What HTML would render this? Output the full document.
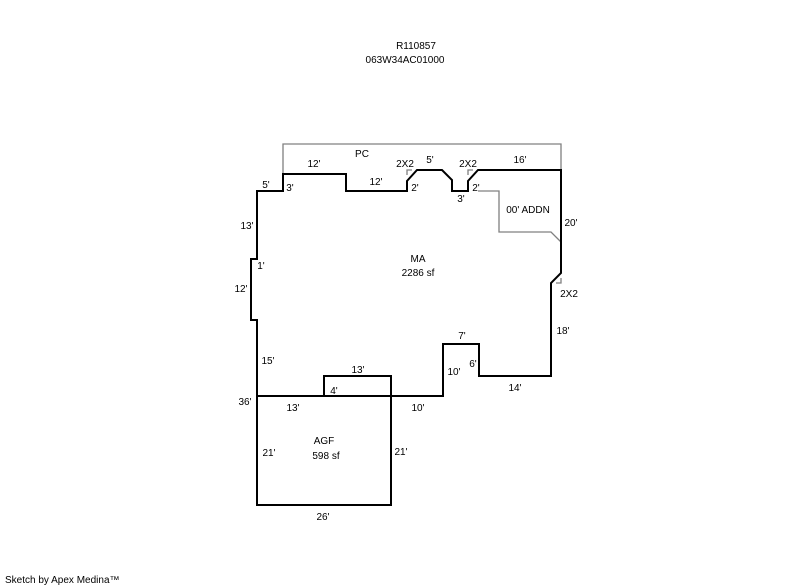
<!DOCTYPE html>
<html><head><meta charset="utf-8"><style>
html,body{margin:0;padding:0;background:#fff;}
svg{display:block;}
text{font-family:"Liberation Sans",Arial,sans-serif;font-size:10px;fill:#000;}
</style></head><body>
<svg width="800" height="587" viewBox="0 0 800 587" xmlns="http://www.w3.org/2000/svg">
<text x="416" y="49" text-anchor="middle">R110857</text>
<text x="405" y="63" text-anchor="middle">063W34AC01000</text>
<!-- PC gray -->
<polyline points="283,174 283,144 561,144 561,170" fill="none" stroke="#808080" stroke-width="1.3"/>
<!-- ADDN gray -->
<polyline points="478,191 499,191 499,232 551,232 561,242" fill="none" stroke="#808080" stroke-width="1.3"/>
<!-- small brackets -->
<polyline points="407,175 407,170 412,170" fill="none" stroke="#808080" stroke-width="1.3"/>
<polyline points="468,175 468,170 473,170" fill="none" stroke="#808080" stroke-width="1.3"/>
<polyline points="556,283 561,283 561,278" fill="none" stroke="#808080" stroke-width="1.3"/>
<!-- MA -->
<polygon points="257,191 283,191 283,174 346,174 346,191 407,191 407,181 417,170 442,170 452,180 452,191 468,191 468,181 478,170 561,170 561,273 551,283 551,376 479,376 479,344 443,344 443,396 391,396 391,376 324,376 324,396 257,396 257,320 251,320 251,259 257,259" fill="none" stroke="#000" stroke-width="2"/>
<!-- AGF -->
<rect x="257" y="396" width="134" height="109" fill="none" stroke="#000" stroke-width="2"/>
<text x="362" y="157" text-anchor="middle">PC</text>
<text x="314" y="167" text-anchor="middle">12'</text>
<text x="376" y="185" text-anchor="middle">12'</text>
<text x="405" y="167" text-anchor="middle">2X2</text>
<text x="430" y="163" text-anchor="middle">5'</text>
<text x="468" y="167" text-anchor="middle">2X2</text>
<text x="520" y="163" text-anchor="middle">16'</text>
<text x="266" y="188" text-anchor="middle">5'</text>
<text x="290" y="191" text-anchor="middle">3'</text>
<text x="415" y="191" text-anchor="middle">2'</text>
<text x="476" y="191" text-anchor="middle">2'</text>
<text x="461" y="202" text-anchor="middle">3'</text>
<text x="528" y="213" text-anchor="middle">00' ADDN</text>
<text x="571" y="226" text-anchor="middle">20'</text>
<text x="247" y="229" text-anchor="middle">13'</text>
<text x="418" y="262" text-anchor="middle">MA</text>
<text x="418" y="276" text-anchor="middle">2286 sf</text>
<text x="261" y="269" text-anchor="middle">1'</text>
<text x="241" y="292" text-anchor="middle">12'</text>
<text x="569" y="297" text-anchor="middle">2X2</text>
<text x="563" y="334" text-anchor="middle">18'</text>
<text x="462" y="339" text-anchor="middle">7'</text>
<text x="268" y="364" text-anchor="middle">15'</text>
<text x="473" y="367" text-anchor="middle">6'</text>
<text x="358" y="373" text-anchor="middle">13'</text>
<text x="454" y="375" text-anchor="middle">10'</text>
<text x="515" y="391" text-anchor="middle">14'</text>
<text x="334" y="394" text-anchor="middle">4'</text>
<text x="245" y="405" text-anchor="middle">36'</text>
<text x="293" y="411" text-anchor="middle">13'</text>
<text x="418" y="411" text-anchor="middle">10'</text>
<text x="324" y="444" text-anchor="middle">AGF</text>
<text x="326" y="459" text-anchor="middle">598 sf</text>
<text x="269" y="456" text-anchor="middle">21'</text>
<text x="401" y="455" text-anchor="middle">21'</text>
<text x="323" y="520" text-anchor="middle">26'</text>
<text x="5" y="583">Sketch by Apex Medina™</text>
</svg>
</body></html>
